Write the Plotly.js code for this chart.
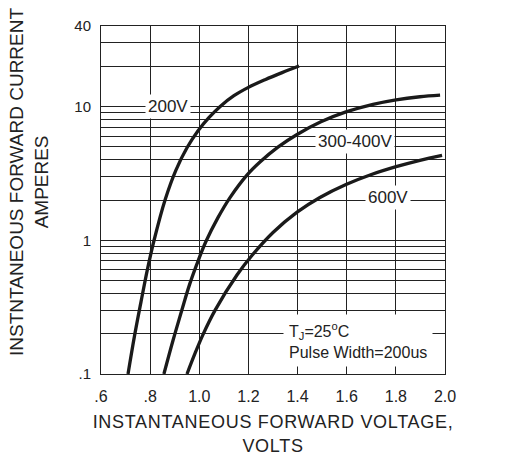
<!DOCTYPE html>
<html>
<head>
<meta charset="utf-8">
<script src="https://cdn.plot.ly/plotly-3.0.1.min.js"></script>
<style>html,body{margin:0;padding:0;background:#fff;}#chart{width:506px;height:471px;}</style>
</head>
<body>
<div id="chart"></div>
<script>
// Forward voltage (V) vs forward current (A)
const v200 = [0.710, 0.736, 0.763, 0.789, 0.816, 0.861, 0.905, 0.950, 0.995, 1.040, 1.084, 1.141, 1.198, 1.268, 1.337, 1.406];
const i200 = [0.1, 0.191, 0.348, 0.606, 1.0, 2.01, 3.35, 4.92, 6.59, 8.29, 9.98, 12.04, 13.84, 15.88, 17.93, 20.09];

const v300 = [0.856, 0.893, 0.930, 0.960, 0.991, 1.027, 1.076, 1.125, 1.194, 1.247, 1.320, 1.398, 1.495, 1.597, 1.707, 1.801, 1.898, 1.980];
const i300 = [0.1, 0.178, 0.305, 0.464, 0.669, 0.978, 1.477, 2.086, 3.072, 3.847, 4.970, 6.18, 7.69, 9.11, 10.38, 11.22, 11.83, 12.16];

const v600 = [0.950, 0.983, 1.015, 1.064, 1.154, 1.215, 1.300, 1.398, 1.491, 1.597, 1.695, 1.801, 1.898, 1.988];
const i600 = [0.1, 0.143, 0.197, 0.299, 0.552, 0.772, 1.143, 1.623, 2.090, 2.613, 3.077, 3.548, 3.961, 4.316];

const xTickVals = [0.6, 0.8, 1.0, 1.2, 1.4, 1.6, 1.8, 2.0];
const xTickText = ['.6', '.8', '1.0', '1.2', '1.4', '1.6', '1.8', '2.0'];
const yTickVals = [0.1, 1, 10, 40];
const yTickText = ['.1', '1', '10', '40'];
const yMinorVals = [0.2, 0.3, 0.4, 0.5, 0.6, 0.7, 0.8, 0.9, 2, 3, 4, 5, 6, 7, 8, 9, 20, 30];

const curveLabels = ['200V', '300-400V', '600V'];
const labelV = [0.873, 1.634, 1.766];
const labelI = [10, 5.45, 2.1];
const noteText = 'T<sub>J</sub>=25<sup>o</sup>C<br>Pulse Width=200us';
const noteV = 1.644;
const noteI = 0.178;
const xTitle = 'INSTANTANEOUS FORWARD VOLTAGE,<br>VOLTS';
const yTitle = 'INSTNTANEOUS FORWARD CURRENT<br>AMPERES';

const lineStyle = {color: '#1a1a1a', width: 3.3, shape: 'spline', smoothing: 1};
const traces = [
  {x: v200, y: i200, mode: 'lines', line: lineStyle, hoverinfo: 'skip'},
  {x: v300, y: i300, mode: 'lines', line: lineStyle, hoverinfo: 'skip'},
  {x: v600, y: i600, mode: 'lines', line: lineStyle, hoverinfo: 'skip'}
];

const FAM = 'Liberation Sans, Arial, sans-serif';
const txtFont = {family: FAM, size: 17, color: '#222'};
const annotations = curveLabels.map((t, k) => ({
  x: labelV[k], y: Math.log10(labelI[k]), xref: 'x', yref: 'y',
  text: t, showarrow: false, bgcolor: '#fff', borderpad: 2, font: txtFont
}));
annotations.push({
  x: noteV, y: Math.log10(noteI), xref: 'x', yref: 'y',
  text: noteText, showarrow: false, align: 'left', bgcolor: '#fff', borderpad: 5,
  font: {family: FAM, size: 16, color: '#222'}
});
annotations.push({
  x: -0.2093, y: 0.552, xref: 'paper', yref: 'paper',
  text: yTitle, textangle: -90, showarrow: false, xanchor: 'center', yanchor: 'middle',
  font: {family: FAM, size: 19, color: '#222'}
});

const gridC = '#222';
const layout = {
  width: 506, height: 471,
  margin: {l: 101, r: 61, t: 26, b: 97},
  paper_bgcolor: '#fff', plot_bgcolor: '#fff',
  showlegend: false,
  font: {family: FAM, color: '#222'},
  xaxis: {
    range: [0.6, 2.0], tickvals: xTickVals, ticktext: xTickText,
    showgrid: true, gridcolor: gridC, gridwidth: 1,
    showline: true, linecolor: gridC, linewidth: 1, mirror: true,
    zeroline: false, ticks: '', ticklabelstandoff: 8,
    tickfont: {size: 16, color: '#222'},
    title: {text: '<span style="letter-spacing:0.7px">' + xTitle + '</span>',
            font: {size: 18, color: '#222'}, standoff: 11},
    automargin: false
  },
  yaxis: {
    type: 'log', range: [-1, Math.log10(40)],
    tickvals: yTickVals, ticktext: yTickText,
    showgrid: true, gridcolor: gridC, gridwidth: 1,
    minor: {tickvals: yMinorVals, showgrid: true, gridcolor: gridC, gridwidth: 1, ticks: ''},
    showline: true, linecolor: gridC, linewidth: 1, mirror: true,
    zeroline: false, ticks: '', ticklabelstandoff: 6,
    tickfont: {size: 15, color: '#222'},
    automargin: false
  },
  annotations: annotations
};

Plotly.newPlot('chart', traces, layout, {staticPlot: true, displayModeBar: false});
</script>
</body>
</html>
